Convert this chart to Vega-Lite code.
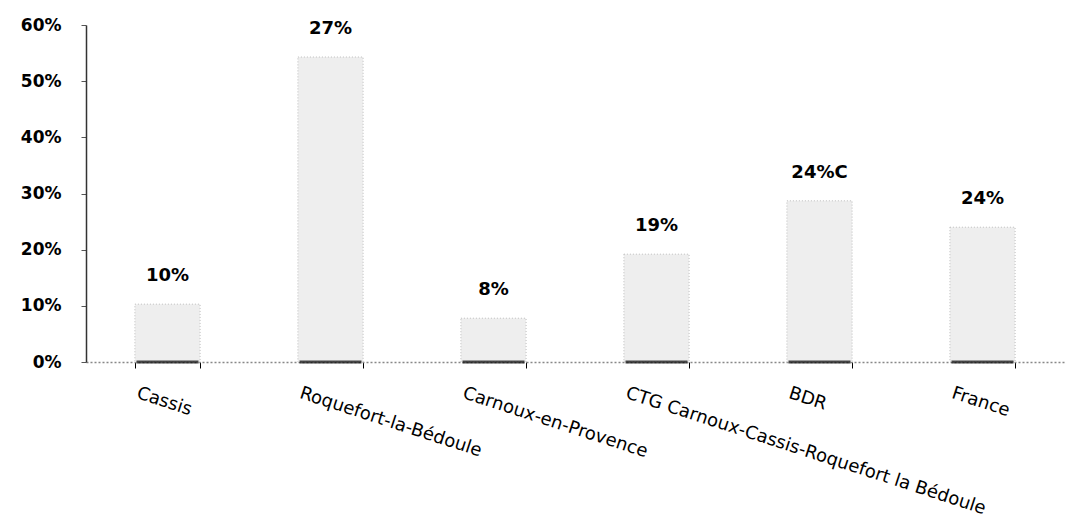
{
  "$schema": "https://vega.github.io/schema/vega-lite/v6.json",
  "width": 978,
  "height": 337,
  "autosize": "none",
  "padding": {"left": 86, "top": 25, "right": 2, "bottom": 162},
  "background": "white",
  "config": {"view": {"stroke": null}},
  "data": {
    "values": [
      {"cat": "Cassis", "value": 0.103, "label": "10%"},
      {"cat": "Roquefort-la-Bédoule", "value": 0.543, "label": "27%"},
      {"cat": "Carnoux-en-Provence", "value": 0.078, "label": "8%"},
      {"cat": "CTG Carnoux-Cassis-Roquefort la Bédoule", "value": 0.192, "label": "19%"},
      {"cat": "BDR", "value": 0.287, "label": "24%C"},
      {"cat": "France", "value": 0.240, "label": "24%"}
    ]
  },
  "encoding": {
    "x": {
      "field": "cat", "type": "nominal", "sort": null, "title": null,
      "scale": {"paddingInner": 0.6, "paddingOuter": 0.3},
      "axis": {
        "labelAngle": 18, "labelAlign": "left", "labelBaseline": "top",
        "labelOffset": -28, "labelPadding": 16,
        "labelFont": "DejaVu Sans", "labelFontSize": 18, "labelColor": "black",
        "labelLimit": 600,
        "tickBand": "extent", "tickColor": "black", "tickSize": 6,
        "domainColor": "#888888", "domainDash": [2, 2], "domainWidth": 1.5
      }
    },
    "y": {
      "field": "value", "type": "quantitative", "title": null,
      "scale": {"domain": [0, 0.6], "nice": false},
      "axis": {
        "values": [0, 0.1, 0.2, 0.3, 0.4, 0.5, 0.6], "format": ".0%", "grid": false,
        "labelFont": "DejaVu Sans", "labelFontSize": 17, "labelFontWeight": "bold", "labelColor": "black",
        "labelPadding": 20, "tickColor": "#555555", "tickSize": 5,
        "domainColor": "#333333", "domainWidth": 1.5
      }
    }
  },
  "layer": [
    {
      "mark": {"type": "bar", "color": "#eeeeee", "stroke": "#bdbdbd", "strokeWidth": 1, "strokeDash": [1, 2]}
    },
    {
      "mark": {"type": "tick", "orient": "horizontal", "color": "#000000", "thickness": 3, "size": 62},
      "encoding": {"y": {"datum": 0, "type": "quantitative"}}
    },
    {
      "mark": {"type": "text", "dy": -28, "baseline": "middle", "font": "DejaVu Sans", "fontSize": 18, "fontWeight": "bold", "color": "black"},
      "encoding": {"text": {"field": "label"}}
    }
  ]
}
